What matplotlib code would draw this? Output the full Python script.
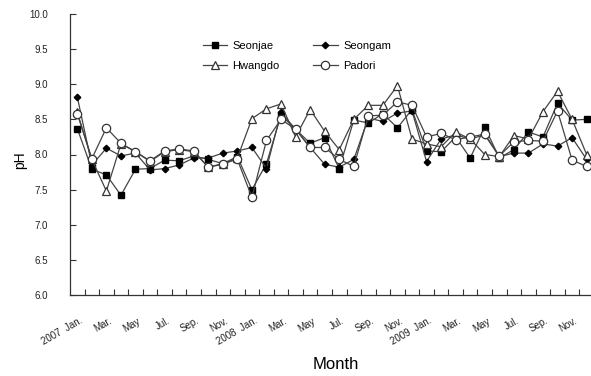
import matplotlib
matplotlib.use("Agg")
import matplotlib.pyplot as plt
from matplotlib.transforms import ScaledTranslation

plt.rcParams['font.family'] = ['Liberation Sans', 'DejaVu Sans']

months = ["Jan.", "Feb.", "Mar.", "Apr.", "May", "Jun.", "Jul.", "Aug.", "Sep.", "Oct.", "Nov.", "Dec."]
years = ["2007", "2008", "2009"]

seonjae = [8.37, 7.79, 7.71, 7.42, 7.79, 7.80, 7.92, 7.91, 7.98, 7.93, 7.87, 7.97,
           7.50, 7.87, 8.56, 8.36, 8.16, 8.24, 7.80, 8.49, 8.45, 8.58, 8.38, 8.64,
           8.05, 8.04, 8.25, 7.95, 8.39, 7.95, 8.07, 8.32, 8.25, 8.73, 8.49, 8.50]
seongam = [8.82, 7.85, 8.09, 7.98, 8.02, 7.78, 7.80, 7.85, 7.95, 7.95, 8.02, 8.05,
           8.10, 7.80, 8.60, 8.36, 8.10, 7.86, 7.82, 7.93, 8.52, 8.47, 8.59, 8.62,
           7.90, 8.22, 8.28, 8.22, 8.28, 7.97, 8.02, 8.02, 8.15, 8.12, 8.24, 7.93]
hwangdo = [8.60, 7.93, 7.48, 8.15, 8.04, 7.90, 8.04, 8.07, 8.04, 7.82, 7.86, 7.95,
           8.51, 8.65, 8.72, 8.25, 8.64, 8.33, 8.07, 8.50, 8.70, 8.70, 8.98, 8.22,
           8.15, 8.11, 8.32, 8.22, 8.00, 7.97, 8.27, 8.22, 8.61, 8.90, 8.50, 8.00]
padori = [8.58, 7.94, 8.38, 8.16, 8.04, 7.91, 8.05, 8.08, 8.05, 7.82, 7.87, 7.93,
          7.39, 8.20, 8.50, 8.36, 8.10, 8.10, 7.93, 7.83, 8.55, 8.56, 8.75, 8.70,
          8.25, 8.30, 8.21, 8.25, 8.29, 7.98, 8.18, 8.20, 8.19, 8.62, 7.92, 7.83]

series = [
    ("Seonjae", seonjae, dict(marker='s', markersize=4.8, markerfacecolor='black', markeredgecolor='black')),
    ("Seongam", seongam, dict(marker='D', markersize=3.3, markerfacecolor='black', markeredgecolor='black')),
    ("Hwangdo", hwangdo, dict(marker='^', markersize=6, markerfacecolor='white', markeredgecolor='#333333', markeredgewidth=0.9)),
    ("Padori", padori, dict(marker='o', markersize=6, markerfacecolor='white', markeredgecolor='#333333', markeredgewidth=0.9)),
]

fig = plt.figure(figsize=(5.91, 3.76), dpi=100)
ax = fig.add_axes([70/591, 1-295/376, 1-70/591, (295-14)/376])

n = len(seonjae)
x = list(range(n))
handles = {}
for name, vals, st in series:
    h, = ax.plot(x, vals, color='#444444', linewidth=0.9, label=name, **st)
    handles[name] = h

ax.set_xlim(-0.5, 35.3)
ax.set_ylim(6.0, 10.0)
ax.set_yticks([6.0 + 0.5*i for i in range(9)])
ax.set_yticklabels([f"{6.0 + 0.5*i:.1f}" for i in range(9)])

labels = []
for i in range(n):
    m = months[i % 12]
    if i % 12 == 0:
        labels.append(years[i // 12] + "  " + m)
    else:
        labels.append(m)
major = [i for i in range(n) if i % 2 == 0]
ax.set_xticks(major)
ax.set_xticklabels([labels[i] for i in major], rotation=30, ha='right', rotation_mode='anchor')
ax.set_xticks([i + 0.5 for i in range(n - 1)], minor=True)
ax.tick_params(axis='x', which='major', length=0, pad=15, labelsize=7, labelcolor='#222222')
ax.tick_params(axis='x', which='minor', direction='in', length=4, width=0.8, color='#333333')
ax.tick_params(axis='y', direction='in', length=4, width=0.8, color='#333333', pad=16,
               labelsize=7, labelcolor='#222222')
for lab in ax.get_xticklabels():
    lab.set_transform(lab.get_transform() + ScaledTranslation(2/100, 0, fig.dpi_scale_trans))

for s in ['top', 'right']:
    ax.spines[s].set_visible(False)
for s in ['left', 'bottom']:
    ax.spines[s].set_color('#333333')
    ax.spines[s].set_linewidth(0.9)

ax.set_xlabel("Month", fontsize=12)
ax.set_ylabel("pH", fontsize=10)
ax.xaxis.set_label_coords((336-70)/521, -(357-295)/281)
ax.yaxis.set_label_coords(-(70-27)/521, (295-160)/281)

order = ["Seonjae", "Hwangdo", "Seongam", "Padori"]
ax.legend([handles[k] for k in order], order, ncol=2, loc='upper left',
          bbox_to_anchor=((197-70)/521, (295-35)/281),
          frameon=False, borderpad=0, handlelength=2.2, handletextpad=0.5,
          columnspacing=3.0, labelspacing=0.95, fontsize=8)

fig.savefig("out.png", dpi=100)
